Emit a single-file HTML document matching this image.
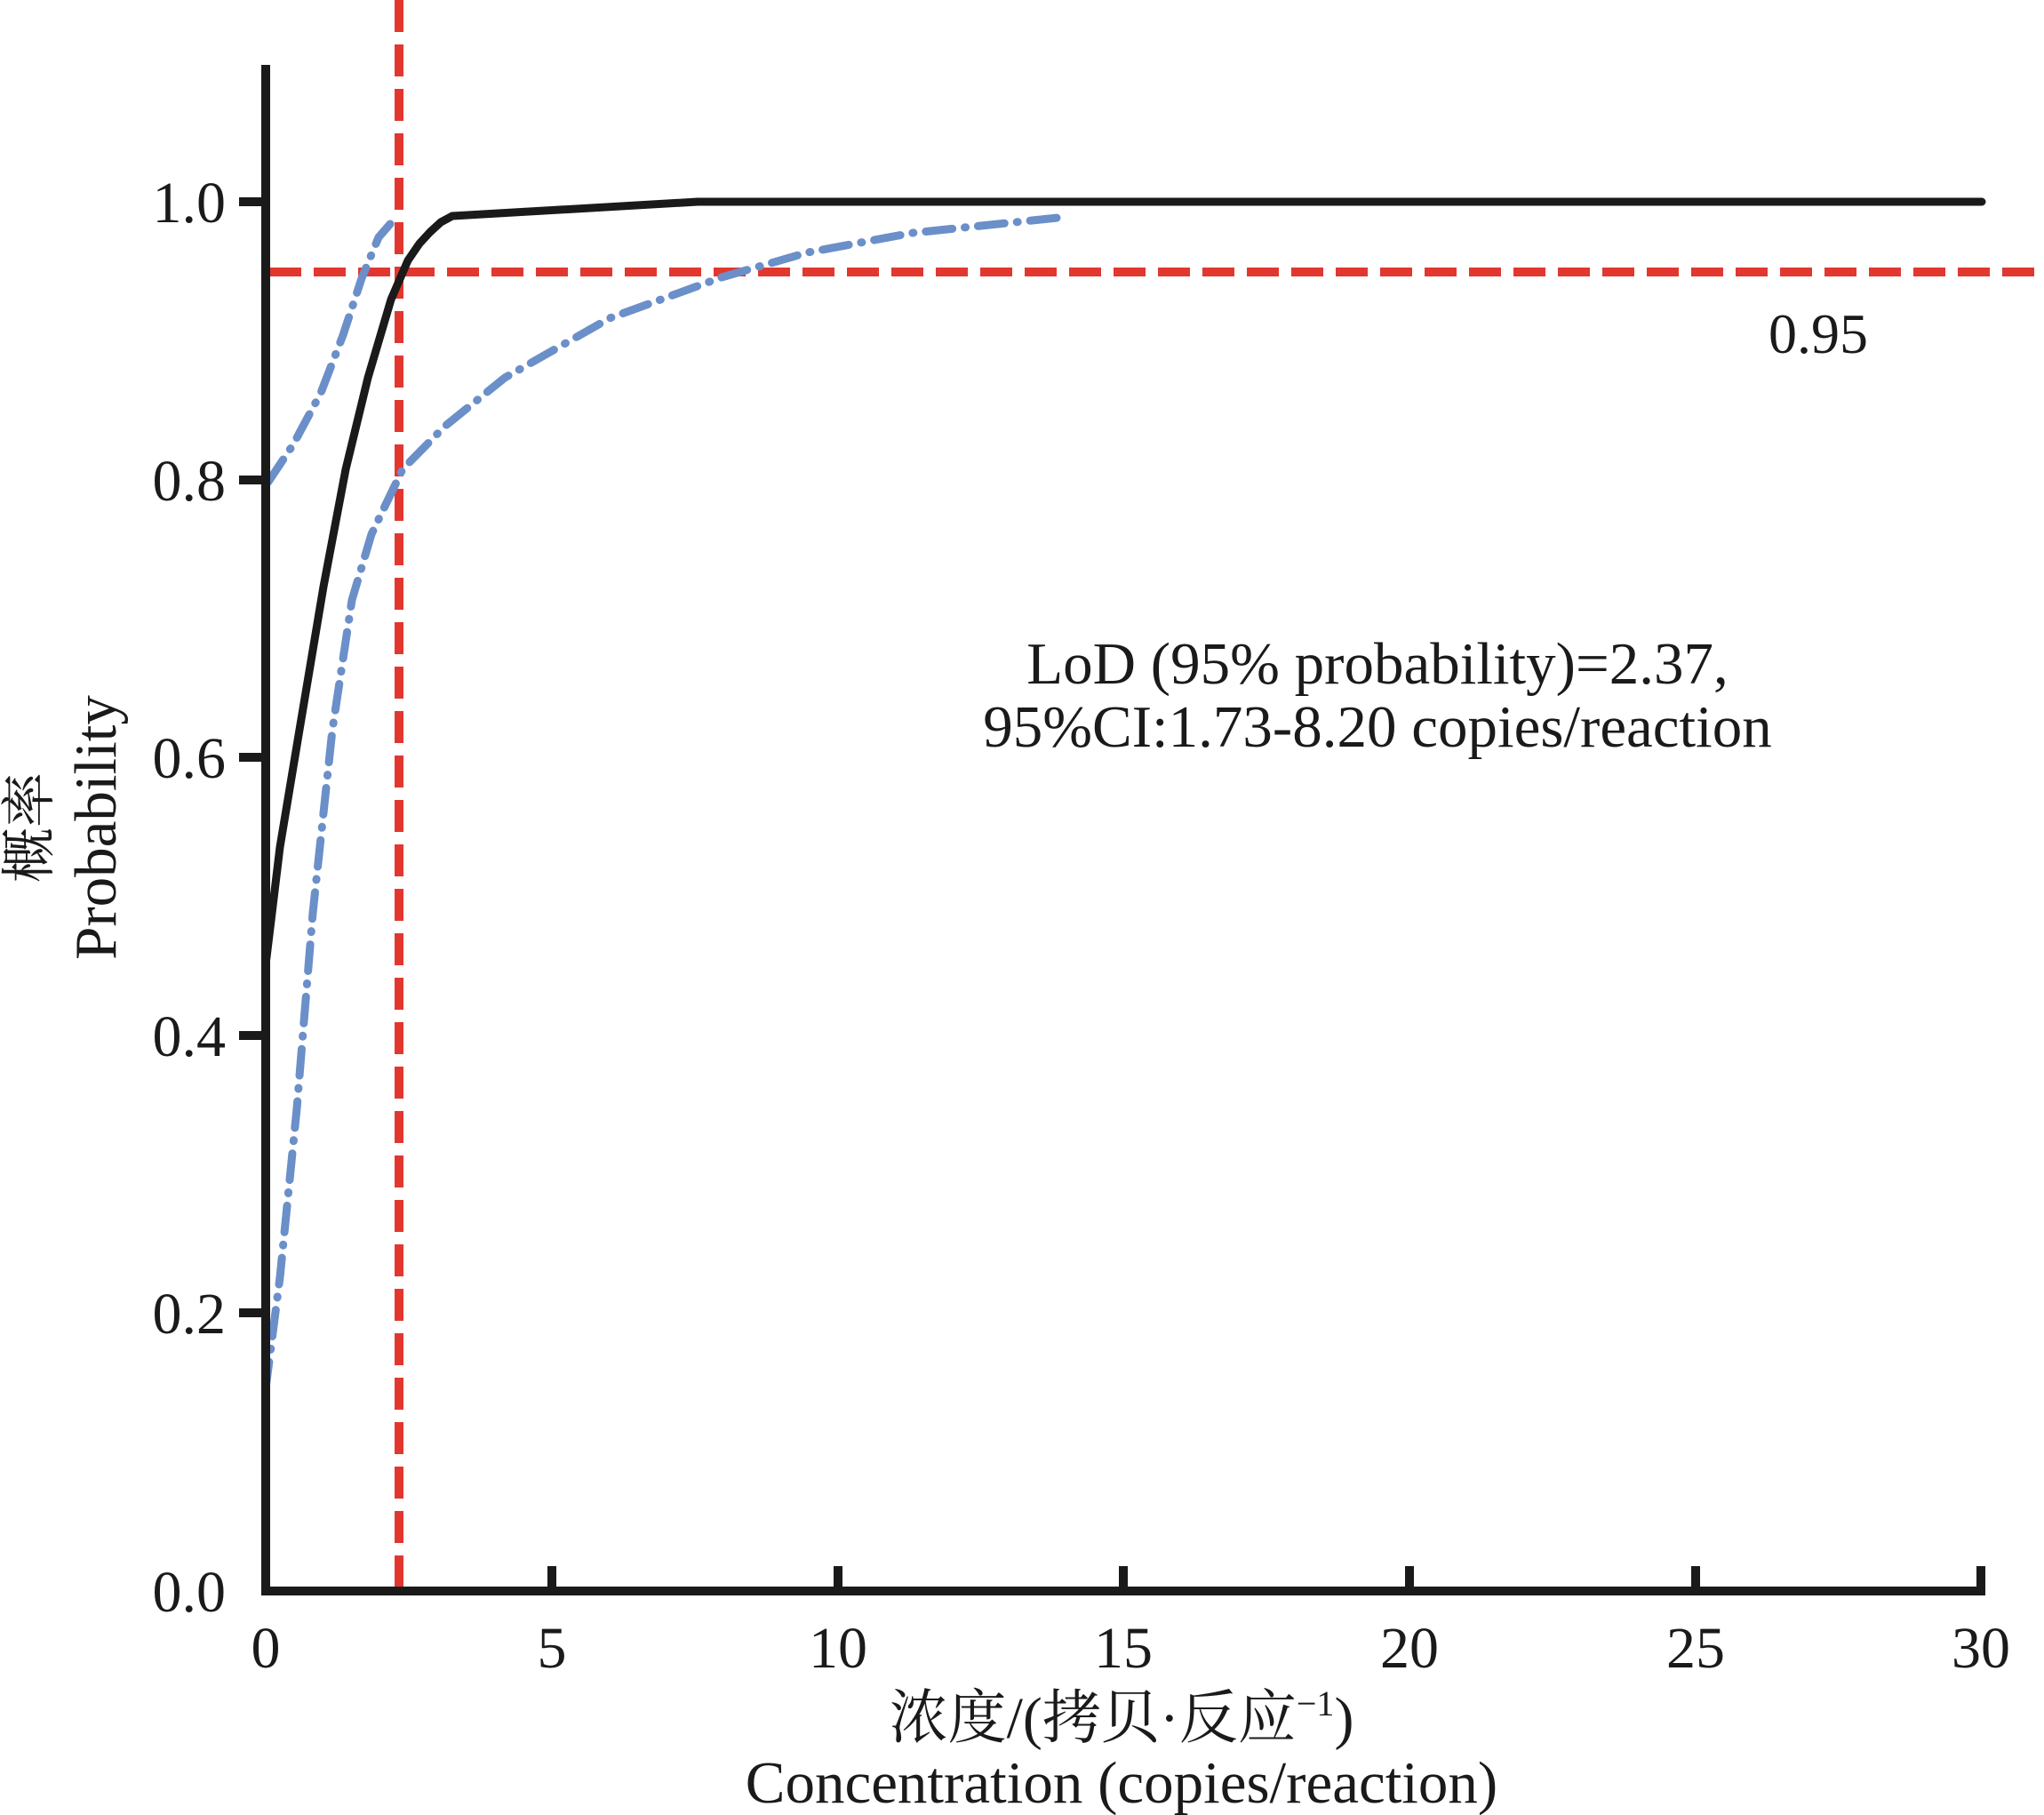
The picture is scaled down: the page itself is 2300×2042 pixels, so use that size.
<!DOCTYPE html>
<html><head><meta charset="utf-8"><style>
html,body{margin:0;padding:0;background:#fff;}
svg{display:block;}
text{font-family:"Liberation Serif","Noto Serif CJK SC",serif;fill:#1a1a1a;}
</style></head><body>
<svg width="2300" height="2042" viewBox="0 0 2300 2042" xmlns="http://www.w3.org/2000/svg">
<!-- red reference lines -->
<line x1="449" y1="0" x2="449" y2="1785" stroke="#e2372f" stroke-width="10" stroke-dasharray="36 14"/>
<line x1="303" y1="306" x2="2300" y2="306" stroke="#e2372f" stroke-width="10" stroke-dasharray="36 14"/>
<!-- blue CI curves -->
<polyline fill="none" stroke="#6b8fc8" stroke-width="9" stroke-linecap="round" stroke-linejoin="round" stroke-dasharray="30 14 1 14"
 points="302,542 330,500 361,442 386,377 407,313 426,267 439,252"/>
<polyline fill="none" stroke="#6b8fc8" stroke-width="9" stroke-linecap="round" stroke-linejoin="round" stroke-dasharray="30 14 1 14"
 points="299,1562 315,1437 334,1247 352,1027 374,821 396,675 418,601 453,528 500,480 568,425 686,358 812,312 909,284 1027,262 1200,244"/>
<!-- black fit curve -->
<polyline fill="none" stroke="#1a1a1a" stroke-width="9" stroke-linejoin="round" stroke-linecap="round"
 points="299,1085 315,953 337,821 364,660 389,528 414,425 440,337 459,293 472,274 484,261 496,250 509,243 785,227 2230,227"/>
<!-- axes -->
<line x1="299" y1="73" x2="299" y2="1795" stroke="#1a1a1a" stroke-width="10"/>
<line x1="294" y1="1790" x2="2234" y2="1790" stroke="#1a1a1a" stroke-width="10"/>
<g stroke="#1a1a1a" stroke-width="10">
<line x1="621" y1="1790" x2="621" y2="1762"/>
<line x1="943" y1="1790" x2="943" y2="1762"/>
<line x1="1264" y1="1790" x2="1264" y2="1762"/>
<line x1="1586" y1="1790" x2="1586" y2="1762"/>
<line x1="1908" y1="1790" x2="1908" y2="1762"/>
<line x1="2229" y1="1790" x2="2229" y2="1762"/>
<line x1="269" y1="227" x2="299" y2="227"/>
<line x1="269" y1="540" x2="299" y2="540"/>
<line x1="269" y1="852" x2="299" y2="852"/>
<line x1="269" y1="1165" x2="299" y2="1165"/>
<line x1="269" y1="1477" x2="299" y2="1477"/>
</g>
<g font-size="66" text-anchor="end">
<text x="254" y="250">1.0</text>
<text x="254" y="563">0.8</text>
<text x="254" y="875">0.6</text>
<text x="254" y="1188">0.4</text>
<text x="254" y="1500">0.2</text>
<text x="254" y="1813">0.0</text>
</g>
<g font-size="66" text-anchor="middle">
<text x="299" y="1876">0</text>
<text x="621" y="1876">5</text>
<text x="943" y="1876">10</text>
<text x="1264" y="1876">15</text>
<text x="1586" y="1876">20</text>
<text x="1908" y="1876">25</text>
<text x="2229" y="1876">30</text>
</g>
<text x="1262" y="1955" font-size="66" text-anchor="middle">浓度/(拷贝·反应<tspan font-size="40" dy="-25">−1</tspan><tspan dy="25">)</tspan></text>
<text x="1262" y="2028" font-size="67" text-anchor="middle">Concentration (copies/reaction)</text>
<g transform="translate(54,931) rotate(-90)"><text x="0" y="0" font-size="62" text-anchor="middle">概率</text></g>
<g transform="translate(130,931) rotate(-90)"><text x="0" y="0" font-size="67" text-anchor="middle">Probability</text></g>
<text x="2046" y="397" font-size="64" text-anchor="middle">0.95</text>
<text x="1550" y="769" font-size="67" text-anchor="middle">LoD (95% probability)=2.37,</text>
<text x="1550" y="840" font-size="67" text-anchor="middle">95%CI:1.73-8.20 copies/reaction</text>
</svg>
</body></html>
